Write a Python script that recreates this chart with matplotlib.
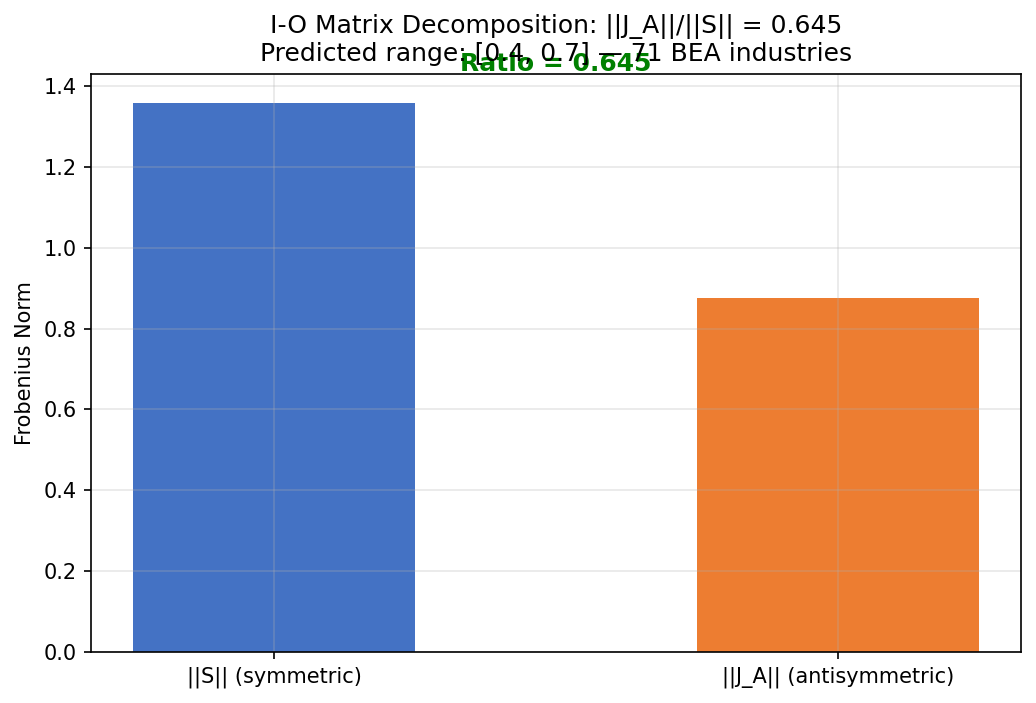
import matplotlib
matplotlib.use("Agg")
import matplotlib.pyplot as plt

categories = ["||S|| (symmetric)", "||J_A|| (antisymmetric)"]
values = [1.358, 0.876]
colors = ["#4472C4", "#ED7D31"]
ratio = 0.645

fig = plt.figure(figsize=(1036/150, 703/150), dpi=150)
ax = fig.add_axes([91/1036, 1-652/703, (1021-91)/1036, (652-74)/703])
ax.bar(range(len(categories)), values, width=0.5, color=colors)
ax.set_xticks(range(len(categories)))
ax.set_xticklabels(categories)
ax.set_ylabel("Frobenius Norm")
ax.set_ylim(0, max(values)*1.053)
ax.grid(True, alpha=0.3)
ax.set_title(f"I-O Matrix Decomposition: ||J_A||/||S|| = {ratio}\nPredicted range: [0.4, 0.7] — 71 BEA industries")
ax.text(0.5, max(values)*1.05, f"Ratio = {ratio}", ha="center", va="bottom",
        fontsize=12, fontweight="bold", color="green")
fig.savefig("out.png", dpi=150)
